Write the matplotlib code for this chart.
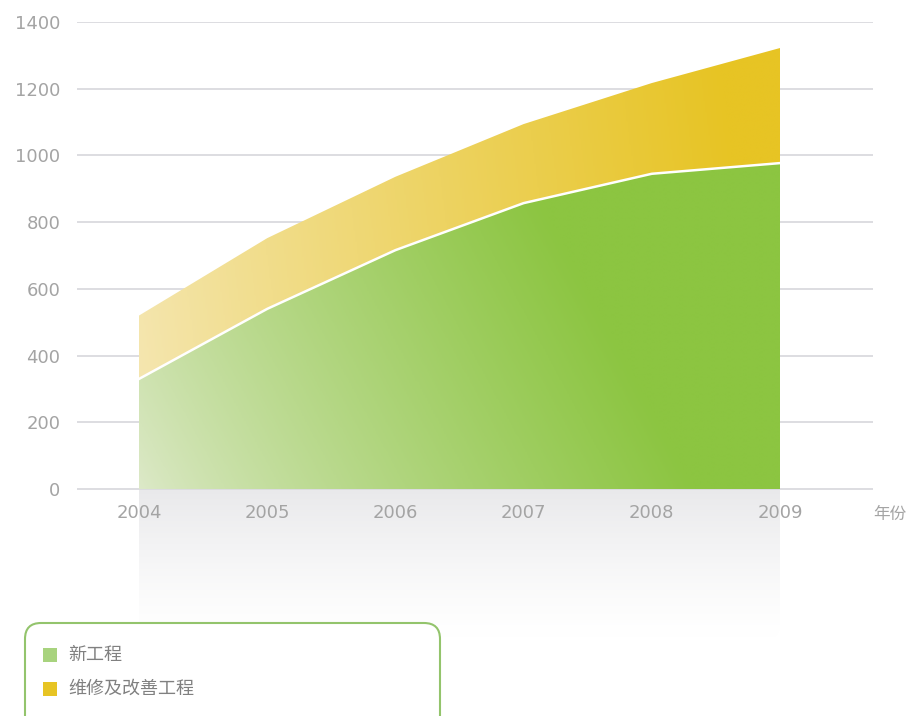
import matplotlib.pyplot as plt
import numpy as np
from matplotlib.colors import LinearSegmentedColormap
from matplotlib.patches import FancyBboxPatch, Rectangle

# Data
years = [2004, 2005, 2006, 2007, 2008, 2009]
new_works = [330, 540, 716, 857, 945, 977]        # 新工程
repair_works = [190, 212, 220, 237, 272, 345]     # 维修及改善工程 (stacked on top)
series_names = ['新工程', '维修及改善工程']
y_ticks = [0, 200, 400, 600, 800, 1000, 1200, 1400]
x_unit = '年份'

# Colours
GREEN_LIGHT = '#dde9c9'
GREEN_DARK = '#8cc541'
YELLOW_LIGHT = '#f5e7b4'
YELLOW_DARK = '#e7c424'
GRID_COLOR = '#dadade'
TEXT_COLOR = '#a4a4a4'
LEGEND_EDGE = '#93c46c'

CJK = ['Noto Sans CJK SC', 'DejaVu Sans']

fig = plt.figure(figsize=(9.16, 7.16), dpi=100)
fig.patch.set_facecolor('white')

# axes: 1400 sits at pixel 22, 0 at pixel 489; extended down for the reflection
ax = fig.add_axes([77 / 916, 0, (873 - 77) / 916, (716 - 22) / 716])
ymin = -(716 - 489) / ((489 - 22) / 1400)

totals = np.array(new_works) + np.array(repair_works)


def gradient_fill(x, lower, upper, c0, c1, kx, ky, gamma, zorder):
    poly = ax.fill_between(x, lower, upper, facecolor='none', edgecolor='none')
    cmap = LinearSegmentedColormap.from_list('g', [c0, c1])
    X, Y = np.meshgrid(np.linspace(0, 1, 400), np.linspace(0, 1, 300))
    t = np.clip(kx * X + ky * Y, 0, 1) ** gamma
    im = ax.imshow(t, cmap=cmap, vmin=0, vmax=1, origin='lower', aspect='auto',
                   extent=[x[0], x[-1], 0, 1400], zorder=zorder, interpolation='bilinear')
    im.set_clip_path(poly.get_paths()[0], ax.transData)


gradient_fill(years, 0, new_works, GREEN_LIGHT, GREEN_DARK, 1.15, 0.45, 0.8, 2)
gradient_fill(years, new_works, totals, YELLOW_LIGHT, YELLOW_DARK, 1.0, 0.1, 0.9, 2)
ax.plot(years, new_works, color='white', lw=1.8, zorder=3)

# reflection under the area (rounded only at the bottom: patch runs above 0)
x_scale = (780 - 139) / 5          # px per year
y_scale = (489 - 22) / 1400        # px per unit
refl = FancyBboxPatch((years[0], -450), years[-1] - years[0], 550,
                      boxstyle='round,pad=0,rounding_size=0.12',
                      mutation_aspect=x_scale / y_scale,
                      facecolor='none', edgecolor='none', zorder=0.2)
ax.add_patch(refl)
rcmap = LinearSegmentedColormap.from_list('r', ['#ffffff', '#e9e9eb'])
grad = np.linspace(0, 1, 200).reshape(-1, 1) ** 1.3
rim = ax.imshow(grad, cmap=rcmap, vmin=0, vmax=1, origin='lower', aspect='auto',
                extent=[years[0], years[-1], -450, 0], zorder=0.2)
rim.set_clip_path(refl)

ax.set_xlim(years[0] - 62 / x_scale, years[0] + (873 - 139) / x_scale)
ax.set_ylim(ymin, 1400)

# grid and ticks
ax.set_yticks(y_ticks)
ax.set_xticks(years)
ax.yaxis.grid(True, color=GRID_COLOR, lw=1.3)
ax.set_axisbelow(True)
for s in ax.spines.values():
    s.set_visible(False)
ax.spines['bottom'].set_position(('data', 0))
ax.tick_params(axis='y', length=0, pad=12, labelsize=13, labelcolor=TEXT_COLOR)
ax.tick_params(axis='x', length=0, pad=11, labelsize=13, labelcolor=TEXT_COLOR)

ax.annotate(x_unit, xy=(1, 0), xycoords=('axes fraction', 'data'),
            xytext=(0, -12), textcoords='offset points', ha='left', va='top',
            fontsize=12, color=TEXT_COLOR, family=CJK)

# legend box (runs off the bottom of the figure)
inch = fig.dpi_scale_trans
fig.patches.append(FancyBboxPatch((0.25, -0.4), 4.15, 1.33,
                                  boxstyle='round,pad=0,rounding_size=0.16',
                                  facecolor='white', edgecolor=LEGEND_EDGE,
                                  lw=1.5, transform=inch, figure=fig))
legend_colors = ['#a8d37e', YELLOW_DARK]
for i, (name, col) in enumerate(zip(series_names, legend_colors)):
    yc = 0.61 - i * 0.34
    fig.patches.append(Rectangle((0.43, yc - 0.07), 0.14, 0.14, facecolor=col,
                                 edgecolor='none', transform=inch, figure=fig))
    fig.text(0.68, yc, name, transform=inch, va='center', ha='left',
             fontsize=13, color='#808080', family=CJK)

fig.savefig('out.png', dpi=100, facecolor='white')
